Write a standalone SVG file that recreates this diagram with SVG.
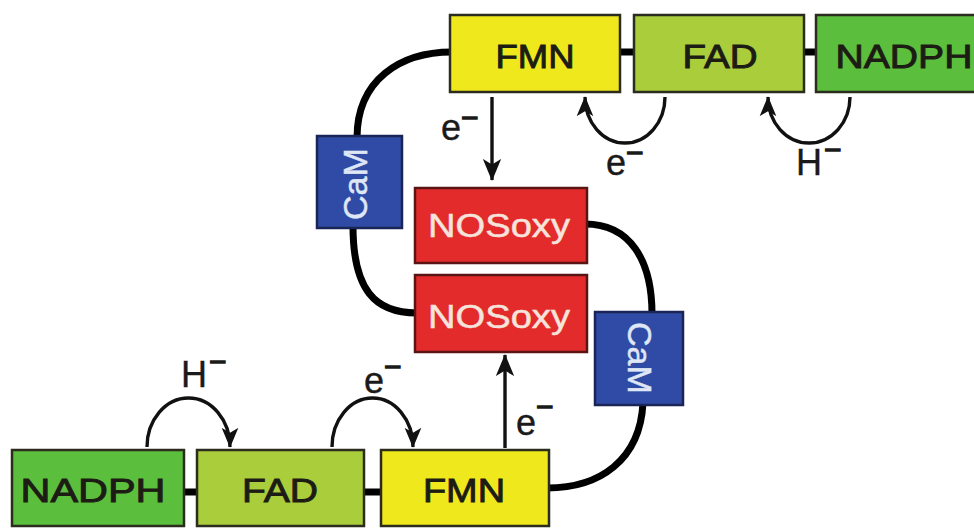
<svg xmlns="http://www.w3.org/2000/svg" width="974" height="528" viewBox="0 0 974 528">
<defs>
<style>
.box{stroke:#2b2b1e;stroke-width:2.5}
.fmn{fill:#efe81c}
.fad{fill:#a9cd3b}
.nadph{fill:#5cbe3d}
.nos{fill:#e42b2b;stroke:#5a1414}
.cam{fill:#2f4ba5;stroke:#1a2456}
.lbl{font-family:"Liberation Sans",Arial,sans-serif;font-size:33px;fill:#1c1c14;stroke:#1c1c14;stroke-width:0.9;text-anchor:middle}
.wl{fill:#f6e3dc;stroke:#f6e3dc;stroke-width:0.5}
.cl{fill:#dfe6f5;stroke:#dfe6f5;stroke-width:0.5}
.sym{font-family:"Liberation Sans",Arial,sans-serif;font-size:36px;fill:#1a1a1a;stroke:#1a1a1a;stroke-width:0.4}
.mn{font-size:30px;stroke-width:1.2}
.link{fill:none;stroke:#000;stroke-width:7;stroke-linecap:butt}
.arr{fill:none;stroke:#111;stroke-width:3.4}
</style>
<marker id="ah" viewBox="0 0 24 20" refX="23" refY="10" markerWidth="22" markerHeight="20" markerUnits="userSpaceOnUse" orient="auto">
<path d="M0,0 L24,10 L0,20 L6,10 z" fill="#111"/>
</marker>
<marker id="ahs" viewBox="0 0 24 20" refX="23" refY="10" markerWidth="20" markerHeight="18" markerUnits="userSpaceOnUse" orient="auto">
<path d="M0,0 L24,10 L0,20 L6,10 z" fill="#111"/>
</marker>
</defs>
<rect width="974" height="528" fill="#ffffff"/>

<g id="connectors">
<path class="link" d="M452,52 C400,52 357,80 357,138"/>
<path class="link" d="M353,226 C353,290 375,313 417,313"/>
<path class="link" d="M585,224 C630,224 652,260 652,314"/>
<path class="link" d="M643,403 C640,460 600,488 547,488"/>
<line class="link" x1="618" y1="52" x2="636" y2="52"/>
<line class="link" x1="802" y1="52" x2="818" y2="52"/>
<line class="link" x1="182" y1="492" x2="199" y2="492"/>
<line class="link" x1="362" y1="492" x2="383" y2="492"/>
<path class="arr" d="M492,97 L492,180" marker-end="url(#ah)"/>
<path class="arr" d="M505,448 L505,355" marker-end="url(#ah)"/>
<path class="arr" d="M665,97 A40,46 0 0 1 585,97" marker-end="url(#ahs)"/>
<path class="arr" d="M850,97 A41,46 0 0 1 768,97" marker-end="url(#ahs)"/>
<path class="arr" d="M147,447 A41.5,49 0 0 1 230,447" marker-end="url(#ahs)"/>
<path class="arr" d="M332,447 A40.5,49 0 0 1 413,447" marker-end="url(#ahs)"/>
</g>

<g id="fmn-top"><rect class="box fmn" x="450" y="15" width="170" height="77"/><text class="lbl" x="535" y="68" textLength="79" lengthAdjust="spacingAndGlyphs">FMN</text></g>
<g id="fad-top"><rect class="box fad" x="634" y="15" width="170" height="77"/><text class="lbl" x="720" y="68" textLength="75" lengthAdjust="spacingAndGlyphs">FAD</text></g>
<g id="nadph-top"><rect class="box nadph" x="816" y="15" width="170" height="77"/><text class="lbl" x="904" y="68" textLength="137" lengthAdjust="spacingAndGlyphs">NADPH</text></g>

<g id="cam-left"><rect class="box cam" x="317" y="136" width="85" height="92"/><text class="lbl cl" transform="translate(367,184) rotate(-90)" textLength="72" lengthAdjust="spacingAndGlyphs">CaM</text></g>
<g id="nosoxy-top"><rect class="box nos" x="415" y="188" width="172" height="75"/><text class="lbl wl" x="499" y="237" textLength="142" lengthAdjust="spacingAndGlyphs">NOSoxy</text></g>
<g id="nosoxy-bottom"><rect class="box nos" x="415" y="275" width="172" height="77"/><text class="lbl wl" x="499" y="328" textLength="142" lengthAdjust="spacingAndGlyphs">NOSoxy</text></g>
<g id="cam-right"><rect class="box cam" x="595" y="312" width="88" height="93"/><text class="lbl cl" transform="translate(628,358) rotate(90)" textLength="72" lengthAdjust="spacingAndGlyphs">CaM</text></g>

<g id="nadph-bottom"><rect class="box nadph" x="12" y="450" width="172" height="76"/><text class="lbl" x="93" y="502" textLength="145" lengthAdjust="spacingAndGlyphs">NADPH</text></g>
<g id="fad-bottom"><rect class="box fad" x="197" y="450" width="167" height="76"/><text class="lbl" x="280" y="502" textLength="76" lengthAdjust="spacingAndGlyphs">FAD</text></g>
<g id="fmn-bottom"><rect class="box fmn" x="381" y="450" width="168" height="76"/><text class="lbl" x="464" y="502" textLength="82" lengthAdjust="spacingAndGlyphs">FMN</text></g>

<g id="labels">
<text class="sym" x="441" y="140">e<tspan class="mn" dy="-12">−</tspan></text>
<text class="sym" x="606" y="175">e<tspan class="mn" dy="-12">−</tspan></text>
<text class="sym" x="796" y="175">H<tspan class="mn" dy="-15" dx="2">−</tspan></text>
<text class="sym" x="181" y="387">H<tspan class="mn" dy="-15" dx="2">−</tspan></text>
<text class="sym" x="364" y="393">e<tspan class="mn" dy="-16">−</tspan></text>
<text class="sym" x="516" y="435">e<tspan class="mn" dy="-18">−</tspan></text>
</g>
</svg>
